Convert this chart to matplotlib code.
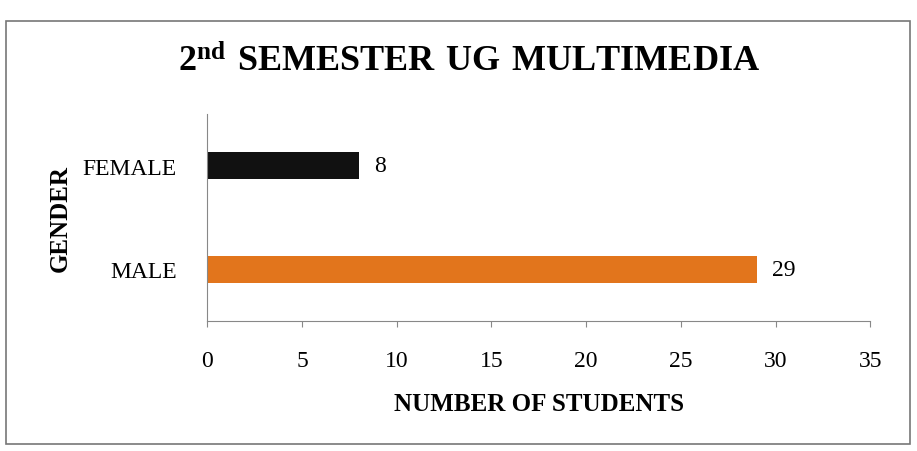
import matplotlib as mpl
mpl.use('Agg')
from matplotlib import pyplot as plt
from matplotlib.patches import Rectangle

plt.rcParams['font.family'] = ['Liberation Serif', 'DejaVu Serif']
plt.rcParams['mathtext.fontset'] = 'custom'
plt.rcParams['mathtext.bf'] = 'Liberation Serif:bold'
plt.rcParams['mathtext.rm'] = 'Liberation Serif'

genders = ['MALE', 'FEMALE']
students = [29, 8]
bar_colors = ['#E2751C', '#111111']
x_ticks = [0, 5, 10, 15, 20, 25, 30, 35]

fig = plt.figure(figsize=(9.17, 4.52), dpi=100)
ax = fig.add_axes([0.226, 0.288, 0.723, 0.458])

ypos = list(range(len(genders)))
ax.barh(ypos, students, height=0.26, color=bar_colors)
for y, v in zip(ypos, students):
    ax.text(v + 0.8, y, str(v), va='center', ha='left', fontsize=17)

ax.set_xlim(0, 35)
ax.set_ylim(-0.5, 1.5)
ax.set_xticks(x_ticks)
ax.set_yticks(ypos)
ax.set_yticklabels(genders)
ax.tick_params(axis='x', length=4, color='#888888', labelsize=17, pad=17)
ax.tick_params(axis='y', length=0, labelsize=17, pad=22)
for s in ['top', 'right']:
    ax.spines[s].set_visible(False)
for s in ['left', 'bottom']:
    ax.spines[s].set_color('#888888')

ax.set_xlabel('NUMBER OF STUDENTS', fontsize=18, fontweight='bold', labelpad=15)
fig.text(0.066, 0.517, 'GENDER', rotation=90, ha='center', va='center',
         fontsize=18, fontweight='bold')
fig.text(0.512, 0.862, r'$\mathbf{2^{nd}\ SEMESTER\ UG\ MULTIMEDIA}$',
         ha='center', va='center', fontsize=26)

fig.add_artist(Rectangle((0.0065, 0.015), 0.9855, 0.936, transform=fig.transFigure,
                         fill=False, edgecolor='#777777', linewidth=1.2))

fig.savefig('out.png', dpi=100)
